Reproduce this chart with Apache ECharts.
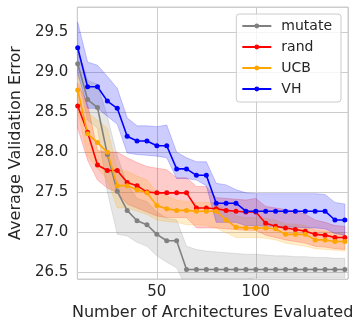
<!DOCTYPE html>
<html>
<head>
<meta charset="utf-8">
<script src="https://cdn.jsdelivr.net/npm/echarts@6/dist/echarts.min.js"></script>
<style>
  html, body { margin: 0; padding: 0; background: #fff; }
  #app { width: 356px; height: 327px; }
</style>
</head>
<body>
<div id="app"></div>
<script>
// number of architectures evaluated
var evals = [10, 15, 20, 25, 30, 35, 40, 45, 50, 55, 60, 65, 70, 75, 80, 85, 90, 95,
  100, 105, 110, 115, 120, 125, 130, 135, 140, 145];

// mean validation error per method
var mutate = [29.11, 28.66, 28.56, 27.97, 27.51, 27.27, 27.14, 27.09, 26.97, 26.89, 26.89,
  26.53, 26.53, 26.53, 26.53, 26.53, 26.53, 26.53, 26.53, 26.53, 26.53, 26.53, 26.53,
  26.53, 26.53, 26.53, 26.53, 26.53];
var rand = [28.58, 28.25, 27.84, 27.77, 27.77, 27.62, 27.58, 27.50, 27.49, 27.49, 27.49,
  27.49, 27.30, 27.30, 27.29, 27.27, 27.26, 27.25, 27.25, 27.11, 27.07, 27.05, 27.03,
  27.01, 26.97, 26.96, 26.93, 26.93];
var ucb = [28.78, 28.23, 28.12, 28.00, 27.58, 27.58, 27.53, 27.49, 27.33, 27.29, 27.27,
  27.27, 27.26, 27.26, 27.26, 27.15, 27.06, 27.05, 27.05, 27.05, 27.04, 26.97, 26.97,
  26.97, 26.90, 26.90, 26.88, 26.88];
var vh = [29.31, 28.82, 28.82, 28.64, 28.55, 28.20, 28.14, 28.14, 28.08, 28.08, 27.79,
  27.79, 27.71, 27.71, 27.36, 27.36, 27.36, 27.26, 27.26, 27.26, 27.26, 27.26, 27.26,
  27.26, 27.26, 27.26, 27.15, 27.15];

// shaded band bounds
var mutateLo = [28.95, 28.40, 28.30, 27.50, 26.97, 26.95, 26.87, 26.82, 26.70, 26.62, 26.55,
  26.30, 26.30, 26.30, 26.30, 26.30, 26.35, 26.40, 26.43, 26.43, 26.43, 26.43, 26.43,
  26.43, 26.43, 26.43, 26.43, 26.43];
var mutateHi = [29.28, 28.90, 28.85, 28.45, 27.95, 27.60, 27.42, 27.38, 27.25, 27.17, 27.15,
  26.82, 26.78, 26.76, 26.75, 26.74, 26.73, 26.72, 26.72, 26.71, 26.70, 26.70, 26.69,
  26.69, 26.68, 26.68, 26.67, 26.67];
var randLo = [28.30, 27.90, 27.65, 27.55, 27.50, 27.35, 27.30, 27.25, 27.20, 27.18, 27.18,
  27.18, 27.05, 27.05, 27.05, 27.04, 27.03, 27.02, 27.02, 26.96, 26.93, 26.90, 26.88,
  26.86, 26.82, 26.81, 26.79, 26.78];
var randHi = [28.87, 28.60, 28.02, 28.00, 28.00, 27.93, 27.87, 27.82, 27.80, 27.78, 27.68,
  27.68, 27.57, 27.57, 27.43, 27.42, 27.41, 27.40, 27.42, 27.32, 27.30, 27.28, 27.26,
  27.22, 27.15, 27.12, 27.08, 27.07];
var ucbLo = [28.50, 27.95, 27.80, 27.65, 27.30, 27.30, 27.26, 27.22, 27.15, 27.13, 27.12,
  27.09, 27.09, 27.08, 27.05, 26.99, 26.93, 26.93, 26.93, 26.92, 26.90, 26.86, 26.84,
  26.82, 26.79, 26.78, 26.77, 26.76];
var ucbHi = [29.00, 28.50, 28.40, 28.30, 27.78, 27.76, 27.70, 27.65, 27.50, 27.45, 27.40,
  27.38, 27.37, 27.37, 27.37, 27.28, 27.20, 27.18, 27.18, 27.17, 27.15, 27.10, 27.10,
  27.08, 27.02, 27.01, 26.99, 26.99];
var vhLo = [29.00, 28.55, 28.55, 28.45, 28.35, 27.99, 27.97, 27.96, 27.95, 27.93, 27.67,
  27.67, 27.65, 27.58, 27.12, 27.12, 27.12, 27.08, 27.08, 27.07, 27.07, 27.06, 27.06,
  27.05, 27.05, 27.04, 26.98, 26.96];
var vhHi = [29.63, 29.13, 29.09, 28.95, 28.80, 28.43, 28.33, 28.33, 28.32, 28.34, 28.00,
  27.93, 27.88, 27.88, 27.61, 27.59, 27.53, 27.49, 27.48, 27.48, 27.48, 27.48, 27.48,
  27.48, 27.48, 27.47, 27.37, 27.35];

var methods = [
  { name: "mutate", color: "#808080", mean: mutate, lo: mutateLo, hi: mutateHi },
  { name: "rand", color: "#ff0000", mean: rand, lo: randLo, hi: randHi },
  { name: "UCB", color: "#ffa500", mean: ucb, lo: ucbLo, hi: ucbHi },
  { name: "VH", color: "#0000ff", mean: vh, lo: vhLo, hi: vhHi }
];

var textColor = "#262626";
var font = "DejaVu Sans";

function pairs(ys) {
  return evals.map(function (x, i) { return [x, ys[i]]; });
}

// band drawn as one polygon: upper edge forward, lower edge back
function bandRenderer(color) {
  return function (params, api) {
    if (params.dataIndexInside !== 0) return null;
    var n = params.dataInsideLength;
    var pts = [];
    for (var i = 0; i < n; i++) pts.push(api.coord([api.value(0, i), api.value(2, i)]));
    for (var j = n - 1; j >= 0; j--) pts.push(api.coord([api.value(0, j), api.value(1, j)]));
    return {
      type: "polygon",
      shape: { points: pts },
      style: { fill: color, opacity: 0.2, stroke: color, lineWidth: 1 }
    };
  };
}

var series = [];
methods.forEach(function (m) {
  series.push({
    name: m.name + "-band",
    type: "custom",
    silent: true,
    clip: true,
    renderItem: bandRenderer(m.color),
    data: evals.map(function (x, i) { return [x, m.lo[i], m.hi[i]]; }),
    z: 1
  });
});
methods.forEach(function (m) {
  series.push({
    name: m.name,
    type: "line",
    data: pairs(m.mean),
    symbol: "circle",
    symbolSize: 5,
    color: m.color,
    lineStyle: { width: 1.6, color: m.color },
    itemStyle: { color: m.color },
    z: 3
  });
});

var myChart = echarts.init(document.getElementById("app"));
myChart.setOption({
  animation: false,
  backgroundColor: "#ffffff",
  grid: {
    left: 69, right: 8, top: 7, bottom: 48,
    show: true, borderColor: "#cccccc", borderWidth: 1
  },
  legend: {
    data: methods.map(function (m) { return m.name; }),
    orient: "vertical",
    right: 15,
    top: 14,
    itemWidth: 29,
    itemHeight: 6,
    itemGap: 7,
    padding: [5, 9, 6, 5],
    backgroundColor: "rgba(255,255,255,0.8)",
    borderColor: "#cccccc",
    borderWidth: 1,
    borderRadius: 3,
    textStyle: { fontFamily: font, fontSize: 14, color: textColor, padding: [0, 0, 0, 5] }
  },
  xAxis: {
    type: "value",
    min: 9.8,
    max: 146.6,
    splitNumber: 3,
    name: "Number of Architectures Evaluated",
    nameLocation: "middle",
    nameGap: 22,
    nameTextStyle: { fontFamily: font, fontSize: 16, color: textColor },
    axisLine: { show: false },
    axisTick: { show: false },
    axisLabel: {
      fontFamily: font, fontSize: 15, color: textColor, margin: 6,
      formatter: function (v) { return v % 50 === 0 ? String(v) : ""; }
    },
    splitLine: { lineStyle: { color: "#cccccc", width: 1 } }
  },
  yAxis: {
    type: "value",
    min: 26.41,
    max: 29.82,
    splitNumber: 7,
    name: "Average Validation Error",
    nameLocation: "middle",
    nameGap: 47,
    nameTextStyle: { fontFamily: font, fontSize: 16, color: textColor },
    axisLine: { show: false },
    axisTick: { show: false },
    axisLabel: {
      fontFamily: font, fontSize: 15, color: textColor, margin: 9,
      formatter: function (v) {
        return Math.abs(v * 2 - Math.round(v * 2)) < 1e-6 ? v.toFixed(1) : "";
      }
    },
    splitLine: { lineStyle: { color: "#cccccc", width: 1 } }
  },
  series: series
});
</script>
</body>
</html>
